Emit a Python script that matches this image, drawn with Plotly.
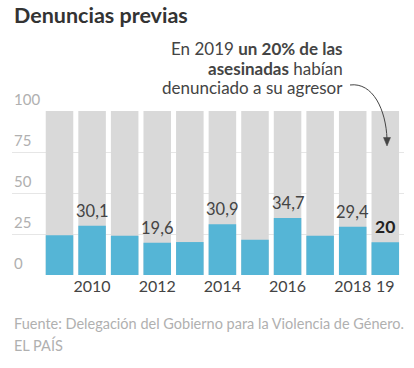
import plotly.graph_objects as go

years = [2009, 2010, 2011, 2012, 2013, 2014, 2015, 2016, 2017, 2018, 2019]
values = [24.3, 30.1, 24.0, 19.6, 20.1, 30.9, 21.5, 34.7, 24.0, 29.4, 20.0]
total = [100] * len(years)
label_years = [2010, 2012, 2014, 2016, 2018, 2019]
label_texts = ["30,1", "19,6", "30,9", "34,7", "29,4", "20"]
tick_vals = [2010, 2012, 2014, 2016, 2018, 2019]
tick_text = ["2010", "2012", "2014", "2016", "2018", "19"]
y_ticks = [0, 25, 50, 75, 100]

W, H = 414, 368
PLOT_L, PLOT_R, PLOT_T, PLOT_B = 12, 404, 111, 275  # window pixels
ML = PLOT_L
MT = PLOT_T
MR = W - PLOT_R
MB = H - PLOT_B
PW = PLOT_R - PLOT_L
PH = PLOT_B - PLOT_T

def px(x):
    return (x - PLOT_L) / PW

def py(y):
    return (PLOT_B - y) / PH

FONT = "Lato"
GREY = "#d9d9d9"
BLUE = "#55b5d6"

fig = go.Figure()
fig.add_trace(go.Bar(x=years, y=total, marker=dict(color=GREY, line=dict(width=0)),
                     width=0.845, hoverinfo="skip"))
fig.add_trace(go.Bar(x=years, y=values, marker=dict(color=BLUE, line=dict(width=0)),
                     width=0.845))

annotations = []
for yr, txt in zip(label_years, label_texts):
    v = values[years.index(yr)]
    bold = yr == 2019
    annotations.append(dict(
        x=yr, y=v, xref="x", yref="y", text=("<b>%s</b>" % txt) if bold else txt,
        showarrow=False, yanchor="bottom", xanchor="center", yshift=3,
        font=dict(family=FONT, size=17.5 if bold else 16.5, color="#222" if bold else "#444")))

for t in y_ticks:
    annotations.append(dict(
        x=0, y=t, xref="paper", yref="y", text=str(t), showarrow=False,
        xanchor="left", yanchor="bottom", yshift=1,
        font=dict(family=FONT, size=15, color="#b0b0b0")))

annotations.append(dict(
    x=px(12), y=py(15), xref="paper", yref="paper", text="<b>Denuncias previas</b>",
    showarrow=False, xanchor="left", yanchor="middle",
    font=dict(family=FONT, size=21.5, color="#333")))

ann_lines = ["En 2019 <b>un 20% de las</b>", "<b>asesinadas</b> habían", "denunciado a su agresor"]
for i, line in enumerate(ann_lines):
    annotations.append(dict(
        x=px(345), y=py(48.5 + 19.5 * i), xref="paper", yref="paper", text=line,
        showarrow=False, xanchor="right", yanchor="middle",
        font=dict(family=FONT, size=17, color="#444")))

annotations.append(dict(
    x=px(12), y=py(323), xref="paper", yref="paper",
    text="Fuente: Delegación del Gobierno para la Violencia de Género.",
    showarrow=False, xanchor="left", yanchor="middle",
    font=dict(family=FONT, size=14.5, color="#b0b0b0")))
annotations.append(dict(
    x=px(12), y=py(345), xref="paper", yref="paper", text="EL PAÍS",
    showarrow=False, xanchor="left", yanchor="middle",
    font=dict(family=FONT, size=14.5, color="#b0b0b0")))

# curved arrow
curve = "M %f %f C %f %f, %f %f, %f %f" % (
    px(350), py(85), px(373), py(82), px(386), py(110), px(387), py(139))
head = "M %f %f L %f %f L %f %f Z" % (
    px(387), py(146), px(383.5), py(137.5), px(390.5), py(137.5))
shapes = [
    dict(type="path", path=curve, xref="paper", yref="paper",
         line=dict(color="#444", width=1)),
    dict(type="path", path=head, xref="paper", yref="paper",
         line=dict(color="#444", width=0.5), fillcolor="#444"),
]

fig.update_layout(
    width=W, height=H, margin=dict(l=ML, r=MR, t=MT, b=MB),
    paper_bgcolor="white", plot_bgcolor="white",
    barmode="overlay", showlegend=False, hovermode=False,
    annotations=annotations, shapes=shapes,
    xaxis=dict(range=[2009 - 1.458, 2009 + 10.574], tickvals=tick_vals, ticktext=tick_text,
               showgrid=False, zeroline=False, showline=False, ticks="",
               tickfont=dict(family=FONT, size=16, color="#444"), fixedrange=True),
    yaxis=dict(range=[0, 100], tickvals=y_ticks, showticklabels=False, showgrid=True,
               gridcolor="#e6e6e6", gridwidth=1, zeroline=False, showline=False,
               fixedrange=True),
)

fig.write_html("out.html", config={"displayModeBar": False, "staticPlot": True},
               post_script="document.body.style.margin='0';document.body.style.overflow='hidden';")
